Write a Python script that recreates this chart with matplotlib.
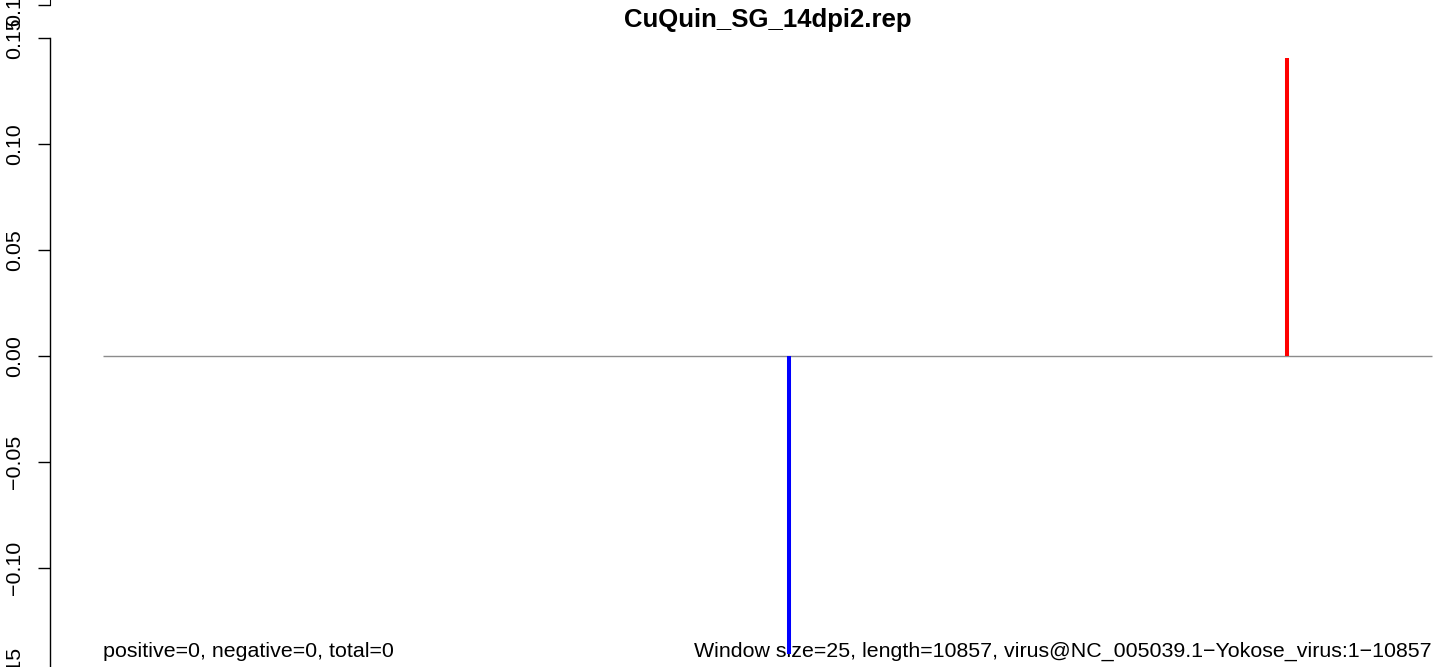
import matplotlib
matplotlib.use("Agg")
import matplotlib.pyplot as plt

# Window scores along the genome (position, score)
positions = [5603, 9673]
scores = [-0.1405, 0.1405]

genome_start = 1
genome_length = 10857
window_size = 25

title = "CuQuin_SG_14dpi2.rep"
y_ticks = [-0.15, -0.10, -0.05, 0.00, 0.05, 0.10, 0.15]
y_tick_labels = ["\u22120.15", "\u22120.10", "\u22120.05", "0.00", "0.05", "0.10", "0.15"]
left_note = "positive=0, negative=0, total=0"
right_note = ("Window size=25, length=10857, "
              "virus@NC_005039.1\u2212Yokose_virus:1\u221210857")

plt.rcParams["font.family"] = ["Liberation Sans", "DejaVu Sans"]

W, H = 1444, 667
fig = plt.figure(figsize=(W / 100, H / 100), dpi=100)

# R-style 4% axis padding
span = genome_length - genome_start
xlim = (genome_start - 0.04 * span, genome_length + 0.04 * span)
ylim = (-0.15 - 0.012, 0.15 + 0.012)

# plot region runs off the right and bottom edges
left_px, right_px = 50, 1485
top_px, bottom_px = 12.6, 699.4
ax = fig.add_axes([left_px / W, (H - bottom_px) / H,
                   (right_px - left_px) / W, (bottom_px - top_px) / H])
ax.set_xlim(*xlim)
ax.set_ylim(*ylim)
for side in ["top", "right", "bottom"]:
    ax.spines[side].set_visible(False)
ax.spines["left"].set_bounds(y_ticks[0], y_ticks[-1])
ax.spines["left"].set_linewidth(1.0)
ax.set_xticks([])
ax.set_yticks(y_ticks)
ax.set_yticklabels(y_tick_labels, rotation=90, va="center")
ax.tick_params(axis="y", length=8.6, width=1.0, pad=10, labelsize=15.4)
ax.patch.set_visible(False)

# zero line over the genome
ax.plot([genome_start, genome_length], [0, 0], color="#8c8c8c", lw=1.0,
        solid_capstyle="butt", zorder=2)

# window score bars
for pos, val in zip(positions, scores):
    color = "red" if val > 0 else "blue"
    ax.vlines(pos, 0, val, color=color, lw=2.9, zorder=3)

ax.text(0.5, (bottom_px - 20) / (bottom_px - top_px), title,
        transform=ax.transAxes, ha="center", va="center",
        fontsize=18.5, fontweight="bold")

ax.text(genome_start, -0.1418, left_note, ha="left", va="baseline",
        fontsize=15.4, zorder=1)
ax.text(genome_length, -0.1418, right_note, ha="right", va="baseline",
        fontsize=15.4, zorder=1)

# bottom of the panel stacked above
ax_up = fig.add_axes([left_px / W, (H - 5) / H, (right_px - left_px) / W, 0.2])
ax_up.set_ylim(0.15, 0.3)
for side in ["top", "right", "bottom"]:
    ax_up.spines[side].set_visible(False)
ax_up.set_xticks([])
ax_up.set_yticks([0.15])
ax_up.set_yticklabels(["0.15"], rotation=90, va="center")
ax_up.tick_params(axis="y", length=8.6, width=1.0, pad=10, labelsize=15.4)
ax_up.patch.set_visible(False)

fig.savefig("out.png", dpi=100)
